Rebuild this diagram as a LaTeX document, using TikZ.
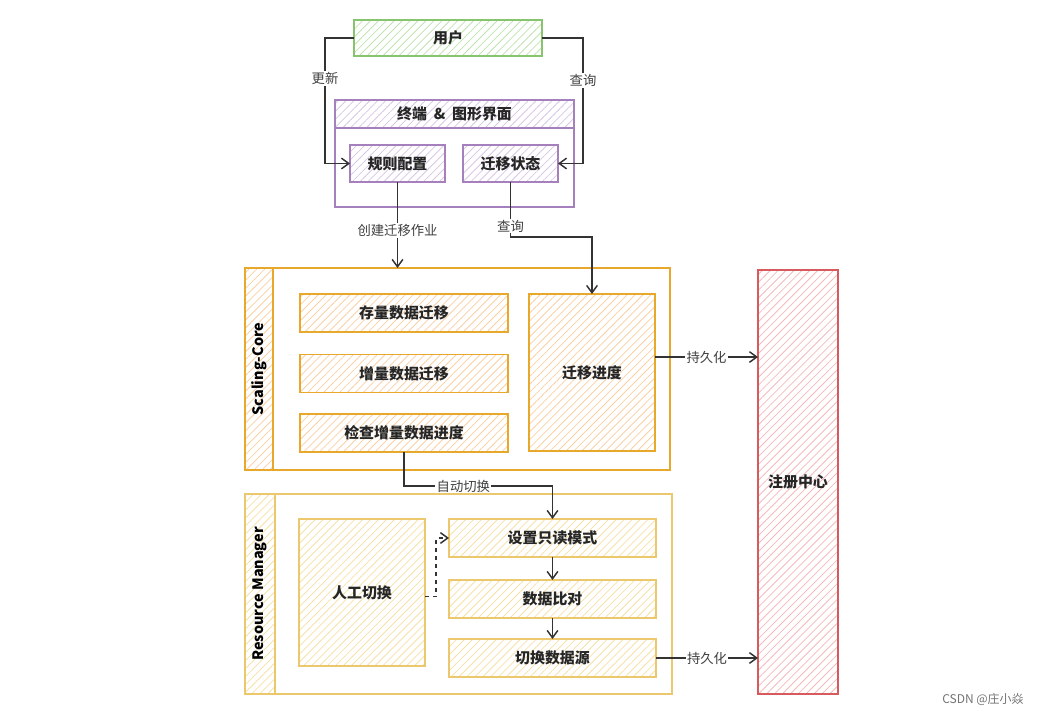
\documentclass[tikz,border=0pt]{standalone}
\usepackage{fontspec}
\setmainfont{Noto Sans CJK SC}
\usepackage{tikz}
\usetikzlibrary{positioning}
\usetikzlibrary{patterns.meta}
\usetikzlibrary{arrows.meta}

\definecolor{grn}{HTML}{86C56E}
\definecolor{grnl}{HTML}{BFE3B0}
\definecolor{pur}{HTML}{A680BD}
\definecolor{purl}{HTML}{D9C5E6}
\definecolor{org}{HTML}{E8A82C}
\definecolor{orgl}{HTML}{F9CFA3}
\definecolor{yel}{HTML}{EBC86E}
\definecolor{yell}{HTML}{F6E0A6}
\definecolor{red}{HTML}{D65A5E}
\definecolor{redl}{HTML}{F6B9B9}
\definecolor{ink}{HTML}{333333}

\begin{document}
\begin{tikzpicture}[x=0.75pt,y=-0.75pt,->,>={Straight Barb[length=5.5pt,width=8pt]},line width=1pt,node distance=17pt]
\tikzstyle{box}=[draw,line width=1.1pt,inner sep=0pt,outer sep=0pt,font=\bfseries\fontsize{11.2}{13}\selectfont,text=black!85]
\tikzstyle{hatch}=[pattern={Lines[angle=45,distance=4.2pt,line width=0.6pt]}]
\tikzstyle{lbl}=[fill=white,inner sep=1pt,font=\fontsize{10}{12}\selectfont,text=black!75]
\tikzstyle{wire}=[draw=ink,line width=1.1pt]
\useasboundingbox (0,0) rectangle (1049,716);

\node[box,draw=grn,hatch,pattern color=grnl,minimum width=141pt,minimum height=27pt]	(user)	at (448,38)		{用户};
\node[box,draw=pur,minimum width=179.25pt,minimum height=80.25pt]	(term)	at (454.5,153.5)	{};
\node[box,draw=pur,hatch,pattern color=purl,minimum width=179.25pt,minimum height=21pt,anchor=north]	(termh)	at (term.north)	{终端\ \ \&\ \ 图形界面};
\node[box,draw=pur,hatch,pattern color=purl,minimum width=71.25pt,minimum height=27.75pt]	(rule)	at (397.5,163.5)	{规则配置};
\node[box,draw=pur,hatch,pattern color=purl,minimum width=71.25pt,minimum height=27.75pt]	(state)	at (510.5,163.5)	{迁移状态};

\node[box,draw=org,minimum width=318.75pt,minimum height=151.5pt]	(sc)	at (457.5,369)	{};
\node[box,draw=org,hatch,pattern color=orgl,minimum width=21pt,minimum height=151.5pt,anchor=west]	(scband)	at (sc.west)	{};
\node[font=\bfseries\fontsize{10.8}{12}\selectfont,rotate=90]	(sctxt)	at (scband)	{Scaling-Core};
\node[box,draw=org,hatch,pattern color=orgl,minimum width=156pt,minimum height=28.5pt]	(full)	at (404,313)	{存量数据迁移};
\node[box,draw=org,hatch,pattern color=orgl,minimum width=156pt,minimum height=28.5pt]	(incr)	[below=17pt of full]	{增量数据迁移};
\node[box,draw=org,hatch,pattern color=orgl,minimum width=156pt,minimum height=28.5pt]	(check)	[below=16pt of incr]	{检查增量数据进度};
\node[box,draw=org,hatch,pattern color=orgl,minimum width=94.5pt,minimum height=117.75pt]	(prog)	at (592,372.5)	{迁移进度};

\node[box,draw=yel,minimum width=320.25pt,minimum height=150pt]	(rm)	at (458.5,594)	{};
\node[box,draw=yel,hatch,pattern color=yell,minimum width=22.5pt,minimum height=150pt,anchor=west]	(rmband)	at (rm.west)	{};
\node[font=\bfseries\fontsize{10.8}{12}\selectfont,rotate=90]	(rmtxt)	at (rmband)	{Resource Manager};
\node[box,draw=yel,hatch,pattern color=yell,minimum width=94.5pt,minimum height=110.25pt]	(manual)	at (362,592.5)	{人工切换};
\node[box,draw=yel,hatch,pattern color=yell,minimum width=155.25pt,minimum height=28.5pt]	(ro)	at (552.5,538)	{设置只读模式};
\node[box,draw=yel,hatch,pattern color=yell,minimum width=155.25pt,minimum height=28.5pt]	(cmp)	[below=17.25pt of ro]	{数据比对};
\node[box,draw=yel,hatch,pattern color=yell,minimum width=155.25pt,minimum height=28.5pt]	(src)	[below=15.75pt of cmp]	{切换数据源};

\node[box,draw=red,hatch,pattern color=redl,minimum width=60pt,minimum height=318pt]	(reg)	at (798,482)	{注册中心};

\node[font=\fontsize{9}{11}\selectfont,text=black!55]	(wm)	at (983,699)	{CSDN @庄小焱};

\draw[wire]	(user.west) -- ++(-29,0) |- node[lbl,pos=0.16] {更新} (rule.west);
\draw[wire]	(user.east) -- ++(41,0) |- node[lbl,pos=0.17] {查询} (state.east);
\draw[wire]	(rule.south) -- node[lbl,pos=0.56] {创建迁移作业} (rule.south |- sc.north);
\draw[wire]	(state.south) -- node[lbl,pos=0.8] {查询} ++(0,55) -| (prog.north);
\draw[wire]	([yshift=11.6pt]prog.east) -- node[lbl] {持久化} ([yshift=11.6pt]prog.east -| reg.west);
\draw[wire]	(check.south) -- ++(0,34) -| node[lbl,pos=0.2] {自动切换} (ro.north);
\draw[wire,dashed]	([yshift=-3pt]manual.east) -- ++(11,0) |- (ro.west);
\draw[wire]	(ro.south) -- (cmp.north);
\draw[wire]	(cmp.south) -- (src.north);
\draw[wire]	(src.east) -- node[lbl] {持久化} (src.east -| reg.west);
\end{tikzpicture}
\end{document}
